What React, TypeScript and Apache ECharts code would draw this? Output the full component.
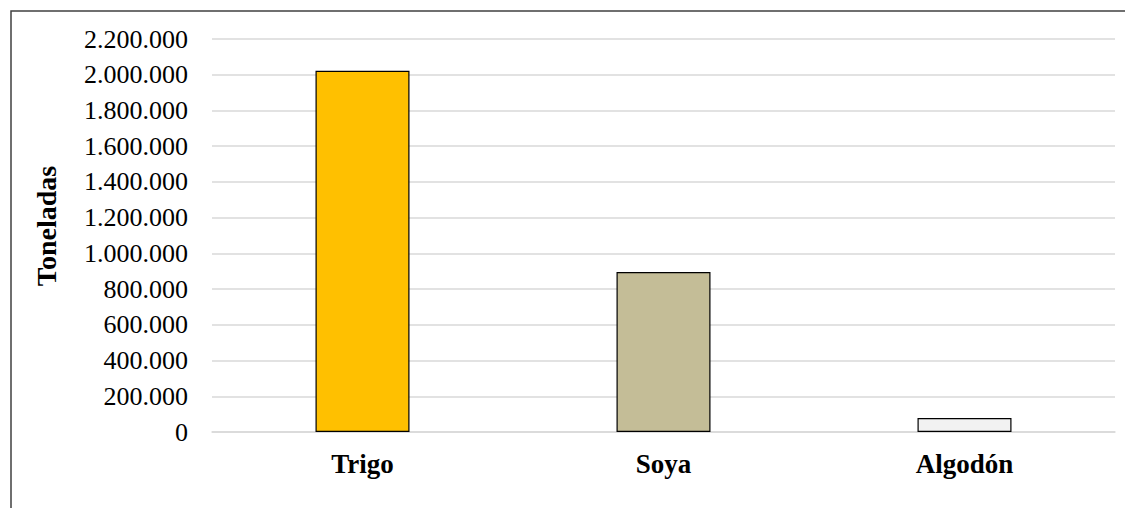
import React, { useEffect, useRef } from "react";
import * as echarts from "echarts";

// Production by crop, in tonnes
const categories = ["Trigo", "Soya", "Algodón"];
const values = [2022000, 896000, 78000];
const barColors = ["#FFC000", "#C4BD97", "#F2F2F2"];

const yMin = 0;
const yMax = 2200000;
const yStep = 200000;
const yTitle = "Toneladas";

const FONT = "'Liberation Serif', 'Times New Roman', serif";

const formatThousands = (v: number) =>
  String(Math.round(v)).replace(/\B(?=(\d{3})+(?!\d))/g, ".");

export default function App() {
  const ref = useRef<HTMLDivElement>(null);

  useEffect(() => {
    document.body.style.margin = "0";
    if (!ref.current) return;
    const chart = echarts.init(ref.current, undefined, { renderer: "svg" });
    chart.setOption({
      animation: false,
      backgroundColor: "#ffffff",
      grid: { left: 212, right: 10, top: 39, bottom: 76, containLabel: false },
      xAxis: {
        type: "category",
        data: categories,
        axisLine: { show: true, lineStyle: { color: "#d9d9d9", width: 1.5 } },
        axisTick: { show: false },
        axisLabel: {
          color: "#000",
          fontFamily: FONT,
          fontSize: 27,
          fontWeight: "bold",
          margin: 18,
        },
      },
      yAxis: {
        type: "value",
        min: yMin,
        max: yMax,
        interval: yStep,
        axisLine: { show: false },
        axisTick: { show: false },
        splitLine: { lineStyle: { color: "#d9d9d9", width: 1.5 } },
        axisLabel: {
          color: "#000",
          fontFamily: FONT,
          fontSize: 26,
          margin: 24,
          formatter: (v: number) => formatThousands(v),
        },
      },
      graphic: [
        {
          type: "rect",
          shape: { x: 11, y: 11, width: 1200, height: 600 },
          style: { fill: "none", stroke: "#404040", lineWidth: 1.5 },
          silent: true,
        },
        {
          type: "text",
          x: 46,
          y: 226,
          rotation: Math.PI / 2,
          style: {
            text: yTitle,
            fill: "#000",
            font: `bold 28px ${FONT}`,
            align: "center",
            verticalAlign: "middle",
          },
        },
      ],
      series: [
        {
          type: "bar",
          barWidth: 94,
          data: values.map((v, i) => ({
            value: v,
            itemStyle: { color: barColors[i] },
          })),
          itemStyle: { borderColor: "#000", borderWidth: 1.2 },
        },
      ],
    });
    return () => chart.dispose();
  }, []);

  return <div ref={ref} style={{ width: 1125, height: 508 }} />;
}
